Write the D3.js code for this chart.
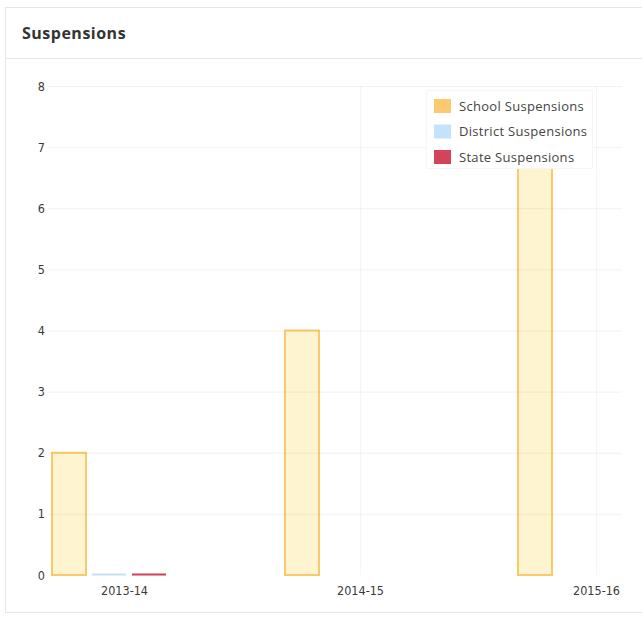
<!DOCTYPE html>
<html><head><meta charset="utf-8">
<script src="https://cdn.jsdelivr.net/npm/d3@7"></script>
<style>body{margin:0;background:#fff;}svg{display:block;}</style>
</head><body>
<svg id="c" width="642" height="625"></svg>
<script>
const categories = ["2013-14", "2014-15", "2015-16"];
const seriesNames = ["School Suspensions", "District Suspensions", "State Suspensions"];
const schoolValues = [2, 4, 7];
const districtValues = [0, null, null];
const stateValues = [0, null, null];
const yTicks = [0, 1, 2, 3, 4, 5, 6, 7, 8];

const series = [
  {name: seriesNames[0], values: schoolValues, fill: "rgba(253,234,160,0.5)", stroke: "#fbc96b", sw: "#fcc870"},
  {name: seriesNames[1], values: districtValues, fill: "rgba(190,225,250,0.5)", stroke: "#c3e2f8", sw: "#c3e3fb"},
  {name: seriesNames[2], values: stateValues, fill: "#d3435b", stroke: "#cf3f58", sw: "#d3435b"}
];

const svg = d3.select("#c");
// card
svg.append("rect").attr("x", 5.5).attr("y", 7.5).attr("width", 660).attr("height", 605)
  .attr("fill", "#fff").attr("stroke", "#e6e6e6");
svg.append("line").attr("x1", 5).attr("x2", 642).attr("y1", 58.5).attr("y2", 58.5).attr("stroke", "#e8e8e8");
svg.append("text").attr("x", 22).attr("y", 39).text("Suspensions")
  .attr("font-family", "Open Sans, sans-serif").attr("font-weight", 700).attr("font-size", 16)
  .attr("letter-spacing", 0.5).attr("fill", "#333");

const y = d3.scaleLinear().domain([0, 8]).range([575, 86]);
const xLabel = d3.scalePoint().domain(categories).range([124, 596]);
const xGroup = d3.scaleBand().domain(categories).range([51, 750]);
const plotL = 48, plotR = 622;
const tf = "DejaVu Sans Condensed, sans-serif";

// bars
const barW = 36, barStep = 40;
series.forEach((s, i) => {
  const data = categories.map((c, j) => ({c, v: s.values[j]})).filter(d => d.v !== null);
  svg.append("g").selectAll("rect").data(data).join("rect")
    .attr("x", d => xGroup(d.c) + i * barStep + 1)
    .attr("y", d => d.v === 0 ? y(0) - 1.5 : y(d.v))
    .attr("width", barW - 2)
    .attr("height", d => d.v === 0 ? 2 : y(0) - y(d.v))
    .attr("fill", d => d.v === 0 ? s.stroke : s.fill)
    .attr("stroke", d => d.v === 0 ? "none" : s.stroke)
    .attr("stroke-width", 2);
});

// grid (over bars, translucent)
const g = svg.append("g");
g.selectAll("line.h").data(yTicks.slice(1)).join("line")
  .attr("x1", plotL).attr("x2", plotR).attr("y1", d => y(d) + 0.5).attr("y2", d => y(d) + 0.5)
  .attr("stroke", "rgba(120,90,40,0.08)").attr("stroke-width", 1);
g.selectAll("line.v").data(categories.slice(1)).join("line")
  .attr("x1", d => xLabel(d) + 0.5).attr("x2", d => xLabel(d) + 0.5).attr("y1", y(8)).attr("y2", y(0))
  .attr("stroke", "rgba(0,0,0,0.04)");

// y axis labels
const yAxis = d3.axisLeft(y).tickValues(yTicks).tickSize(0).tickPadding(0).tickFormat(d3.format("d"));
const ya = svg.append("g").attr("transform", "translate(45,0)").call(yAxis);
ya.select(".domain").remove();
ya.selectAll("text").attr("font-family", tf).attr("font-size", 12.5).attr("fill", "#3a3a3a").attr("dy", "0.32em");

// x axis labels
const xAxis = d3.axisBottom(xLabel).tickSize(0).tickPadding(0);
const xa = svg.append("g").attr("transform", "translate(0,586)").call(xAxis);
xa.select(".domain").remove();
xa.selectAll("text").attr("font-family", tf).attr("font-size", 12.5).attr("fill", "#3a3a3a").attr("dy", "0.71em");

// legend
const lg = svg.append("g");
lg.append("rect").attr("x", 426.5).attr("y", 90.5).attr("width", 166).attr("height", 78)
  .attr("fill", "#fff").attr("stroke", "#f6f6f6");
series.forEach((s, i) => {
  const yy = 106 + i * 25.5;
  lg.append("rect").attr("x", 434).attr("y", yy - 7).attr("width", 17).attr("height", 14).attr("fill", s.sw);
  lg.append("text").attr("x", 459).attr("y", yy).attr("dy", "0.35em").text(s.name)
    .attr("font-family", "Open Sans, sans-serif").attr("font-size", 13).attr("letter-spacing", 0.3).attr("fill", "#444");
});
</script>
</body></html>
